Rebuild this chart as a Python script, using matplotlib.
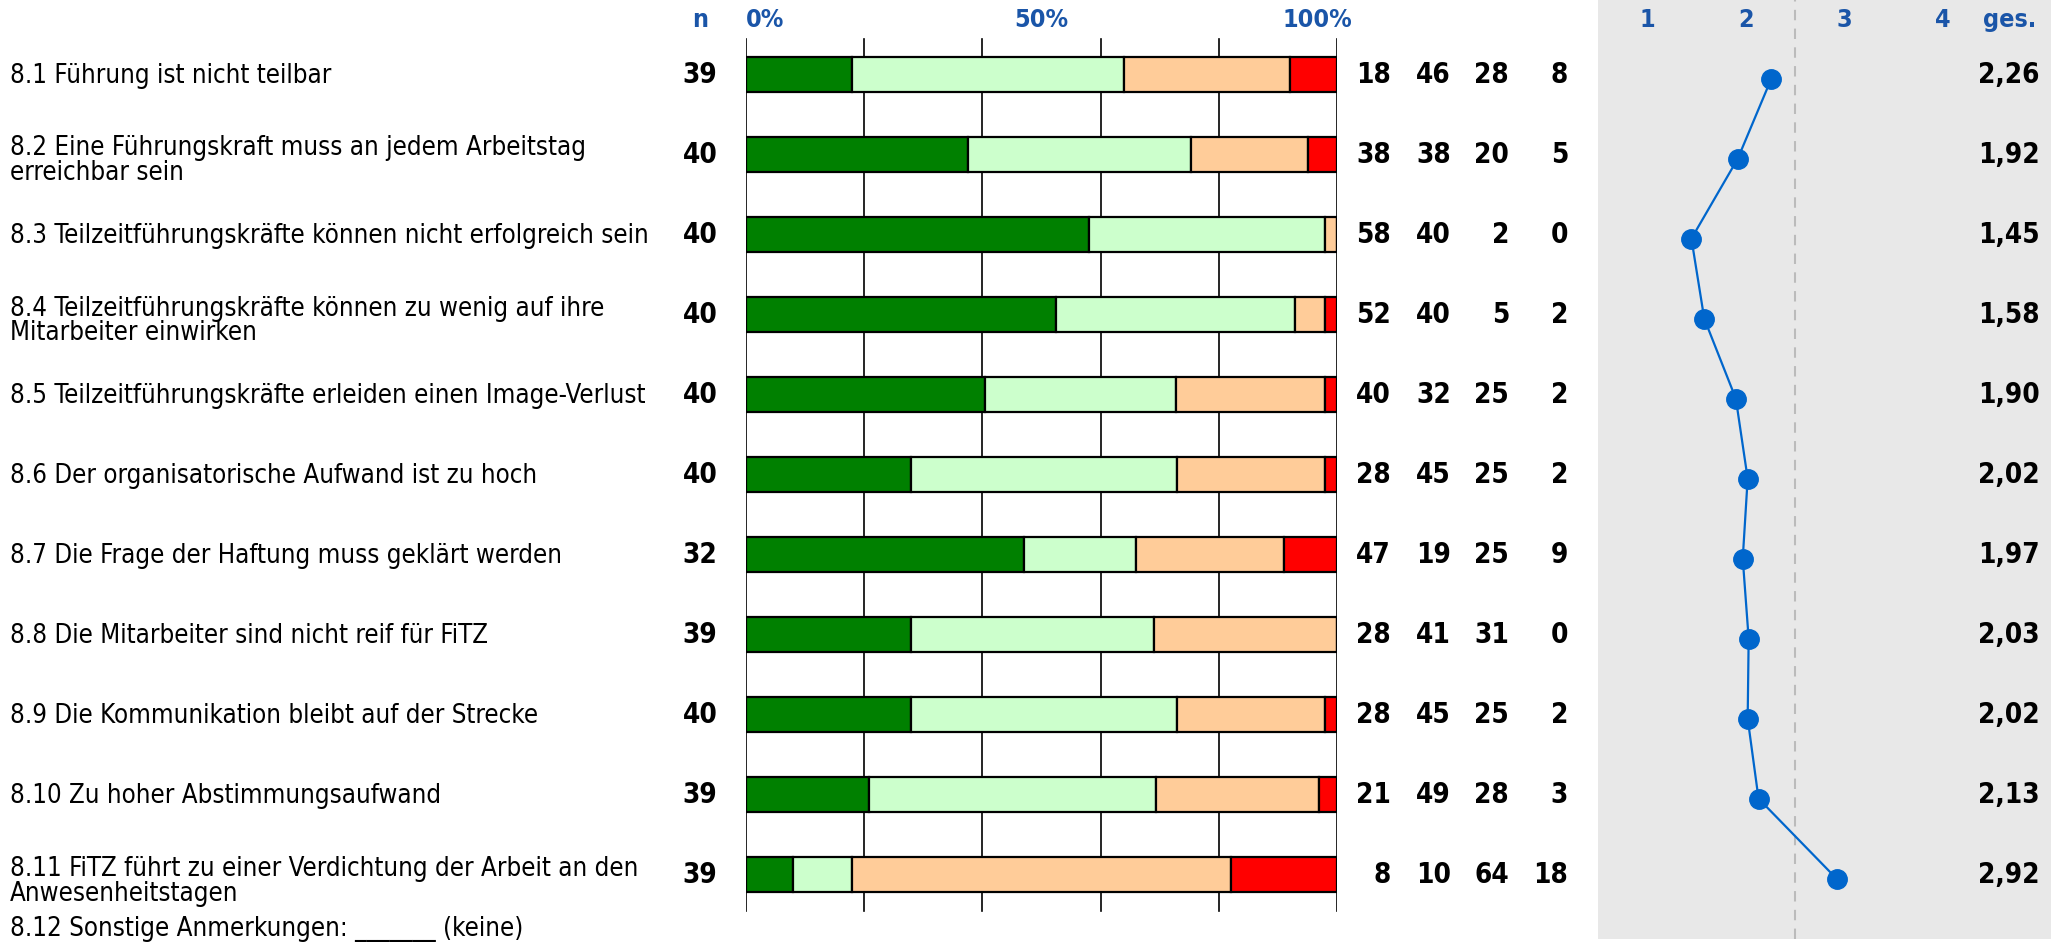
import matplotlib
matplotlib.use("Agg")
import matplotlib.pyplot as plt
from matplotlib import font_manager
from matplotlib.font_manager import FontProperties
import matplotlib.transforms as mtransforms

# pick a narrow sans font if one is installed
def pick_font(bold):
    best = None
    for f in font_manager.fontManager.ttflist:
        narrow = ('Narrow' in f.name or 'Condensed' in f.name
                  or f.stretch in ('condensed', 'semi-condensed'))
        if not narrow or f.style != 'normal' or 'Mono' in f.name or 'Serif' in f.name:
            continue
        w = f.weight if isinstance(f.weight, int) else (700 if 'bold' in str(f.weight) else 400)
        if (w >= 600) != bold:
            continue
        score = ('Liberation' in f.name) * 2 + ('DejaVu' in f.name)
        if best is None or score > best[0]:
            best = (score, f.fname)
    return best[1] if best else None

reg_file = pick_font(False)
bold_file = pick_font(True)

def fp(size, bold=False):
    path = bold_file if bold else reg_file
    if path:
        return FontProperties(fname=path, size=size)
    return FontProperties(family='DejaVu Sans', size=size,
                          weight='bold' if bold else 'normal')

labels = [
    "8.1 Führung ist nicht teilbar",
    "8.2 Eine Führungskraft muss an jedem Arbeitstag\nerreichbar sein",
    "8.3 Teilzeitführungskräfte können nicht erfolgreich sein",
    "8.4 Teilzeitführungskräfte können zu wenig auf ihre\nMitarbeiter einwirken",
    "8.5 Teilzeitführungskräfte erleiden einen Image-Verlust",
    "8.6 Der organisatorische Aufwand ist zu hoch",
    "8.7 Die Frage der Haftung muss geklärt werden",
    "8.8 Die Mitarbeiter sind nicht reif für FiTZ",
    "8.9 Die Kommunikation bleibt auf der Strecke",
    "8.10 Zu hoher Abstimmungsaufwand",
    "8.11 FiTZ führt zu einer Verdichtung der Arbeit an den\nAnwesenheitstagen",
]
footer = "8.12 Sonstige Anmerkungen: _______ (keine)"
n = [39, 40, 40, 40, 40, 40, 32, 39, 40, 39, 39]
p1 = [18, 38, 58, 52, 40, 28, 47, 28, 28, 21, 8]
p2 = [46, 38, 40, 40, 32, 45, 19, 41, 45, 49, 10]
p3 = [28, 20, 2, 5, 25, 25, 25, 31, 25, 28, 64]
p4 = [8, 5, 0, 2, 2, 2, 9, 0, 2, 3, 18]
means = [2.26, 1.92, 1.45, 1.58, 1.90, 2.02, 1.97, 2.03, 2.02, 2.13, 2.92]
colors = ['#008000', '#CCFFCC', '#FFCC99', '#FF0000']
scale_ticks = ['1', '2', '3', '4']

W, H = 2051, 947
fig = plt.figure(figsize=(W / 100, H / 100), dpi=100)

# row geometry in pixels
y0, dy = 74.6, 80.0
def ylim_for(top_px, bot_px):
    return ((bot_px - y0) / dy, (top_px - y0) / dy)

def px_axes(x1, x2, top, bot):
    return fig.add_axes([x1 / W, 1 - bot / H, (x2 - x1) / W, (bot - top) / H])

def fx(px):
    return px / W

# ---- bar axes
ax = px_axes(746, 1337, 0, H)
ax.set_xlim(0, 100)
ax.set_ylim(*ylim_for(0, H))
ax.axis('off')
for g in range(0, 101, 20):
    ax.plot([g, g], [-0.45, 10.45], color='black', lw=1.2, zorder=1)
rows = range(len(n))
tot = [a + b + c + d for a, b, c, d in zip(p1, p2, p3, p4)]
left = [0] * len(n)
for vals, c in zip([p1, p2, p3, p4], colors):
    w = [v / t * 100 for v, t in zip(vals, tot)]
    ax.barh(list(rows), w, left=left, height=0.43, color=c,
            edgecolor='black', linewidth=1.6, zorder=2)
    left = [l + x for l, x in zip(left, w)]

tr = mtransforms.blended_transform_factory(fig.transFigure, ax.transData)
col_right = [1391, 1451, 1509, 1568]
for i in rows:
    off = 0.08 if '\n' in labels[i] else 0.02
    ax.text(fx(10), i + off, labels[i], fontproperties=fp(18.5), va='center',
            ha='left', transform=tr, linespacing=0.95)
    ax.text(fx(700), i, str(n[i]), ha='center', va='center',
            fontproperties=fp(20, True), transform=tr)
    for v, xr in zip([p1[i], p2[i], p3[i], p4[i]], col_right):
        ax.text(fx(xr), i, str(v), ha='right', va='center',
                fontproperties=fp(20, True), transform=tr)
ax.text(fx(10), (929 - y0) / dy, footer, fontproperties=fp(18.5), va='center',
        ha='left', transform=tr)

blue = '#1A55A8'
hy = 1 - 20 / H
fig.text(fx(700), hy, 'n', ha='center', va='center', color=blue, fontproperties=fp(18, True))
fig.text(fx(746), hy, '0%', ha='left', va='center', color=blue, fontproperties=fp(18, True))
fig.text(fx(1041), hy, '50%', ha='center', va='center', color=blue, fontproperties=fp(18, True))
fig.text(fx(1352), hy, '100%', ha='right', va='center', color=blue, fontproperties=fp(18, True))

# ---- mean panel
ax2 = px_axes(1598, W, 0, 939)
ax2.set_facecolor('#E8E8E8')
ax2.set_xlim(1 + (1598 - 1647) / 98.7, 1 + (W - 1647) / 98.7)
ax2.set_ylim(*ylim_for(0, 939))
for s in ax2.spines.values():
    s.set_visible(False)
ax2.set_xticks([])
ax2.set_yticks([])
ax2.axvline(2.5, color='#BBBBBB', ls=(0, (5, 4)), lw=1.5, zorder=1)
ax2.plot(means, [i + 0.05 for i in rows], color='#0066CC', lw=1.6,
         marker='o', ms=14, zorder=3)
for k, t in enumerate(scale_ticks, start=1):
    ax2.text(k, (20 - y0) / dy, t, ha='center', va='center', color=blue,
             fontproperties=fp(18, True))
ax2.text(1 + (2010 - 1647) / 98.7, (20 - y0) / dy, 'ges.', ha='center',
         va='center', color=blue, fontproperties=fp(18, True))
tr2 = mtransforms.blended_transform_factory(fig.transFigure, ax2.transData)
for i in rows:
    ax2.text(fx(2040), i, f"{means[i]:.2f}".replace('.', ','), ha='right',
             va='center', fontproperties=fp(20, True), transform=tr2)

fig.savefig('out.png', dpi=100)
